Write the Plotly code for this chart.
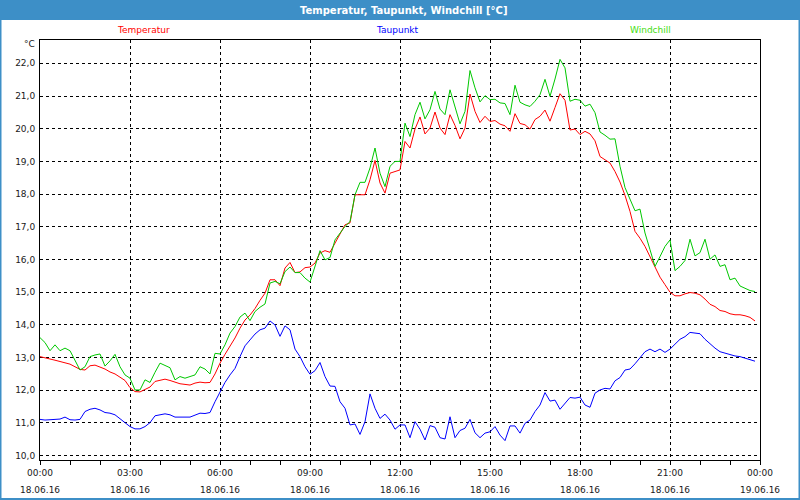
import pandas as pd
import plotly.graph_objects as go

# ---- data (10-minute readings, 18.06.16 00:00 .. 23:50) ----
temperatur = [
    13.03, 13.00, 12.95, 12.92, 12.88, 12.85, 12.80, 12.72, 12.64, 12.62, 12.75, 12.77,
    12.72, 12.65, 12.56, 12.50, 12.40, 12.30, 12.08, 11.96, 11.95, 12.02, 12.10, 12.27,
    12.30, 12.34, 12.30, 12.24, 12.20, 12.18, 12.16, 12.22, 12.25, 12.23, 12.24, 12.50,
    12.83, 13.10, 13.35, 13.60, 13.90, 14.15, 14.30, 14.50, 14.75, 14.97, 15.38, 15.38,
    15.20, 15.74, 15.91, 15.60, 15.62, 15.75, 15.77, 15.89, 16.20, 16.27, 16.22, 16.50,
    16.75, 17.06, 17.12, 17.98, 17.98, 17.98, 18.44, 19.03, 18.34, 18.03, 18.64, 18.68,
    18.74, 19.61, 19.41, 19.99, 20.36, 19.84, 20.02, 20.51, 20.02, 19.82, 20.43, 20.10,
    19.69, 20.02, 21.06, 20.53, 20.19, 20.38, 20.22, 20.25, 20.14, 20.09, 19.92, 20.46,
    20.16, 20.12, 19.99, 20.28, 20.38, 20.57, 20.23, 20.65, 21.07, 20.87, 19.96, 19.99,
    19.82, 19.92, 19.84, 19.63, 19.15, 19.05, 18.95, 18.69, 18.37, 17.96, 17.47, 16.86,
    16.65, 16.40, 16.09, 15.79, 15.46, 15.23, 15.00, 14.89, 14.89, 14.95, 14.99, 14.97,
    14.92, 14.79, 14.63, 14.56, 14.44, 14.41, 14.34, 14.31, 14.31, 14.28, 14.23, 14.12,
]
taupunkt = [
    11.11, 11.09, 11.10, 11.12, 11.12, 11.18, 11.10, 11.09, 11.11, 11.35, 11.42, 11.45,
    11.40, 11.32, 11.30, 11.25, 11.12, 11.01, 10.89, 10.82, 10.82, 10.89, 11.01, 11.22,
    11.25, 11.28, 11.25, 11.18, 11.18, 11.18, 11.18, 11.24, 11.30, 11.29, 11.32, 11.65,
    11.93, 12.24, 12.47, 12.67, 13.03, 13.36, 13.54, 13.72, 13.85, 13.90, 14.12, 14.00,
    13.65, 13.97, 13.85, 13.26, 13.03, 12.72, 12.49, 12.60, 12.85, 12.42, 12.13, 12.12,
    11.65, 11.45, 10.94, 10.97, 10.65, 11.04, 11.89, 11.45, 11.14, 11.27, 11.09, 10.81,
    10.94, 10.94, 10.55, 11.04, 10.81, 10.48, 10.92, 10.87, 10.55, 10.51, 11.19, 10.55,
    10.77, 10.84, 11.11, 10.70, 10.55, 10.69, 10.73, 10.89, 10.63, 10.46, 10.91, 10.91,
    10.69, 10.99, 11.09, 11.35, 11.55, 11.93, 11.67, 11.70, 11.42, 11.60, 11.78, 11.76,
    11.79, 11.55, 11.48, 11.91, 12.01, 12.06, 12.04, 12.29, 12.39, 12.62, 12.65, 12.81,
    13.01, 13.18, 13.26, 13.18, 13.26, 13.16, 13.26, 13.42, 13.56, 13.64, 13.77, 13.75,
    13.73, 13.56, 13.42, 13.29, 13.18, 13.13, 13.08, 13.05, 13.03, 12.98, 12.93, 12.89,
]
windchill = [
    13.61, 13.46, 13.21, 13.39, 13.21, 13.29, 13.21, 12.93, 12.62, 12.72, 13.03, 13.08,
    13.11, 12.74, 12.90, 13.10, 12.72, 12.47, 12.37, 12.01, 12.01, 12.32, 12.24, 12.55,
    12.83, 12.76, 12.69, 12.32, 12.42, 12.37, 12.42, 12.47, 12.72, 12.65, 12.50, 13.13,
    13.11, 13.39, 13.75, 13.95, 14.24, 14.36, 14.13, 14.41, 14.54, 14.64, 15.28, 15.33,
    15.26, 15.63, 15.77, 15.60, 15.60, 15.43, 15.31, 15.79, 16.27, 15.99, 16.06, 16.60,
    16.81, 17.01, 17.16, 17.98, 18.36, 18.36, 18.80, 19.41, 18.64, 18.23, 18.85, 19.00,
    19.00, 20.17, 19.76, 20.43, 20.81, 20.30, 20.58, 21.14, 20.60, 20.43, 21.19, 20.63,
    20.15, 20.53, 21.78, 21.25, 20.82, 21.01, 20.89, 20.90, 20.79, 20.77, 20.43, 21.33,
    20.81, 20.73, 20.68, 20.84, 21.04, 21.51, 20.99, 21.52, 22.12, 21.86, 20.84, 20.90,
    20.87, 20.69, 20.75, 20.49, 19.90, 19.80, 19.68, 19.69, 18.85, 18.20, 17.83, 17.49,
    17.54, 16.81, 16.30, 15.79, 16.09, 16.40, 16.60, 15.66, 15.79, 15.97, 16.62, 16.11,
    16.21, 16.62, 16.01, 16.14, 15.79, 15.84, 15.38, 15.43, 15.19, 15.12, 15.05, 15.02,
]
times = pd.date_range("2016-06-18 00:00", periods=len(temperatur), freq="10min")

series_names = ["Temperatur", "Taupunkt", "Windchill"]
series_colors = ["#ff0000", "#0000ff", "#00c800"]
label_colors = ["#ff0000", "#0000ff", "#44dd11"]

x_tickvals = pd.date_range("2016-06-18 00:00", "2016-06-19 00:00", freq="3h")
x_ticktext = [f"{t:%H:%M}" for t in x_tickvals]
x_datetext = [f"{t:%d.%m.%y}" for t in x_tickvals]
y_tickvals = list(range(10, 23))
y_ticktext = [f"{v},0" for v in y_tickvals]

# ---- layout geometry ----
W, H = 800, 500
ML, MR, MT, MB = 40, 40, 40, 40
PW, PH = W - ML - MR, H - MT - MB


def px(xp):
    return (xp - ML) / PW


def py(yp):
    return (H - MB - yp) / PH


fig = go.Figure()
for name, vals, col in zip(series_names, [temperatur, taupunkt, windchill], series_colors):
    fig.add_trace(go.Scatter(x=times, y=vals, mode="lines", name=name,
                             line=dict(color=col, width=1), hoverinfo="skip"))

fig.update_layout(
    width=W, height=H,
    margin=dict(l=ML, r=MR, t=MT, b=MB, autoexpand=False),
    paper_bgcolor="white", plot_bgcolor="white",
    showlegend=False,
    font=dict(family="DejaVu Sans, Verdana, sans-serif", size=9, color="#1a1a1a"),
)
fig.update_xaxes(
    range=[x_tickvals[0], x_tickvals[-1]], automargin=False,
    tickmode="array", tickvals=x_tickvals, ticktext=x_ticktext,
    showline=True, linecolor="black", linewidth=1, mirror=True,
    ticks="outside", ticklen=4, tickcolor="black", tickwidth=1,
    minor=dict(dtick=3600000, ticks="outside", ticklen=4, tickcolor="black", showgrid=False),
    showgrid=True, gridcolor="black", gridwidth=1, griddash="3px,3px",
    zeroline=False, tickfont=dict(size=9),
)
fig.update_yaxes(
    range=[9.868, 22.713], automargin=False,
    tickmode="array", tickvals=y_tickvals, ticktext=y_ticktext,
    showline=True, linecolor="black", linewidth=1, mirror=True,
    ticks="", showgrid=True, gridcolor="black", gridwidth=1, griddash="3px,3px",
    zeroline=False, tickfont=dict(size=9), ticklabelstandoff=2,
)

# second row of x labels (dates), placed on the x scale
for tv, dt in zip(x_tickvals, x_datetext):
    fig.add_annotation(text=dt, xref="x", yref="paper", x=tv, y=py(490),
                       xanchor="center", yanchor="middle", showarrow=False,
                       font=dict(size=9, color="#1a1a1a"))

# title bar and frame
fig.add_shape(type="rect", xref="paper", yref="paper",
              x0=px(0), x1=px(W), y0=py(20), y1=py(0),
              fillcolor="#3d8fc7", line=dict(width=0), layer="below")
fig.add_shape(type="rect", xref="paper", yref="paper",
              x0=px(0.5), x1=px(W - 0.5), y0=py(H - 1), y1=py(19),
              fillcolor="rgba(0,0,0,0)", line=dict(color="#3d8fc7", width=2))

fig.add_annotation(text="<b>Temperatur, Taupunkt, Windchill [°C]</b>",
                   xref="paper", yref="paper", x=px(404), y=py(10),
                   xanchor="center", yanchor="middle", showarrow=False,
                   font=dict(color="white", size=10))

label_x = [143, 397, 650]
for name, col, lx in zip(series_names, label_colors, label_x):
    fig.add_annotation(text=name, xref="paper", yref="paper", x=px(lx), y=py(30),
                       xanchor="center", yanchor="middle", showarrow=False,
                       font=dict(color=col, size=9))

fig.add_annotation(text="°C", xref="paper", yref="paper", x=px(37), y=py(44),
                   xanchor="right", yanchor="middle", showarrow=False,
                   font=dict(size=9, color="#1a1a1a"))

fig.write_html("out.html", config={"displayModeBar": False},
               post_script="document.body.style.margin='0';document.body.style.overflow='hidden';")
